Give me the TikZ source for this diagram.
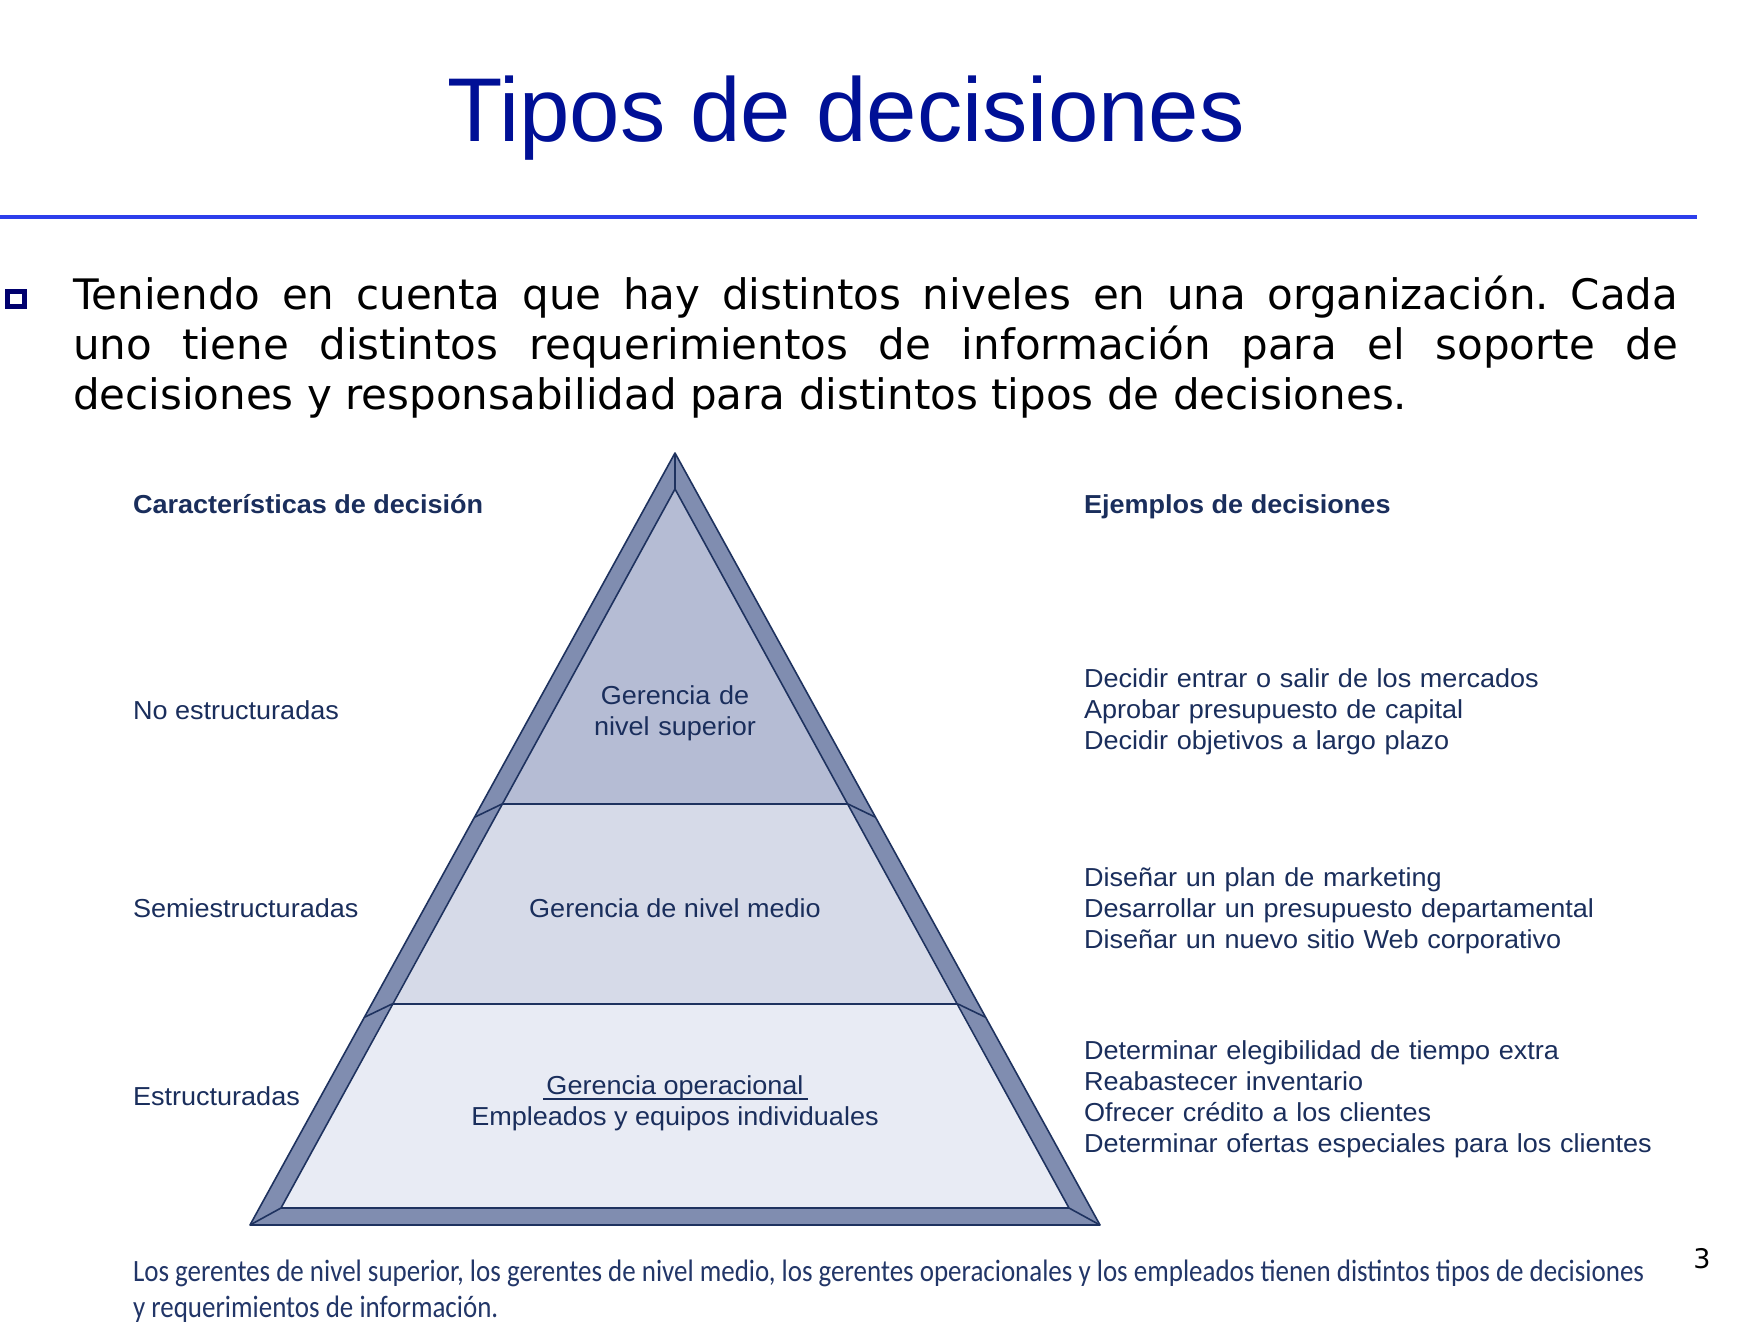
\documentclass[tikz,border=0pt]{standalone}
\usepackage{fontspec}
\setmainfont{Liberation Sans}
\newfontfamily\parafont{DejaVu Sans}
\newfontfamily\figfont[FakeStretch=1.04]{Liberation Sans}
\newfontfamily\notefont[FakeStretch=0.87]{Carlito}

\definecolor{titleblue}{RGB}{0,16,150}
\definecolor{ruleblue}{RGB}{45,62,235}
\definecolor{bulletnavy}{RGB}{0,0,110}
\definecolor{textnavy}{RGB}{26,46,92}
\definecolor{capnavy}{RGB}{34,54,104}
\definecolor{edgenavy}{RGB}{30,50,95}
\definecolor{bevelblue}{RGB}{128,141,176}
\definecolor{tiertop}{RGB}{181,188,212}
\definecolor{tiermid}{RGB}{214,218,232}
\definecolor{tierlow}{RGB}{232,235,244}

% one justified line of the intro text
\newcommand\jline[1]{\leavevmode\hbox to 802.5pt{\frenchspacing\spaceskip=0.318em plus 1fil\relax #1}}

\begin{document}
\begin{tikzpicture}[ x = 0.5pt, y = -0.5pt
                   , every node/.style = { inner sep = 0pt, outer sep = 0pt }
                   , figtext/.style = { font = \figfont\fontsize{13pt}{15.5pt}\selectfont
                                      , text = textnavy }
                   , fighead/.style = { figtext
                                      , font = \figfont\bfseries\fontsize{13pt}{15.5pt}\selectfont }
                   , textblock/.style = { figtext, align = left, text width = 330pt }
                   , tierlabel/.style = { figtext, align = center, text width = 300pt }
                   , edgeline/.style = { draw = edgenavy, line width = 0.8pt, line join = round }
                   ]

  \fill[white] (0,0) rectangle (1741,1334);
  \useasboundingbox (0,0) rectangle (1741,1334);

  % heading and rule
  \node (title) [anchor = base, text = titleblue, font = \fontsize{45.3pt}{54pt}\selectfont]
    at (846,141) {Tipos de decisiones};
  \draw[ruleblue, line width = 2pt] (0,216.5) -- (1697,216.5);

  \draw[bulletnavy, line width = 2.5pt] (7,291) rectangle (24,306);
  \node (intro) [ anchor = base west, align = left, text width = 802.5pt
                , font = \parafont\fontsize{21pt}{25pt}\selectfont ]
    at (73,309)
    {\jline{Teniendo en cuenta que hay distintos niveles en una organización. Cada}\\
     \jline{uno tiene distintos requerimientos de información para el soporte de}\\
     \spaceskip=0pt\xspaceskip=0pt decisiones y responsabilidad para distintos tipos de decisiones.};

  % pyramid
  \coordinate (apexOut) at (675,453);
  \coordinate (apexIn) at (675,489);
  \coordinate (baseOutL) at (250,1225);
  \coordinate (baseOutR) at (1100,1225);
  \coordinate (baseInL) at (281,1208);
  \coordinate (baseInR) at (1069,1208);
  \coordinate (upInL) at (502,804);
  \coordinate (upInR) at (848,804);
  \coordinate (upOutL) at (475,817);
  \coordinate (upOutR) at (875,817);
  \coordinate (lowInL) at (392,1004);
  \coordinate (lowInR) at (958,1004);
  \coordinate (lowOutL) at (365,1017);
  \coordinate (lowOutR) at (985,1017);

  \fill[bevelblue] (apexOut) -- (baseOutR) -- (baseOutL) -- cycle;
  \fill[tiertop] (apexIn) -- (upInR) -- (upInL) -- cycle;
  \fill[tiermid] (upInL) -- (upInR) -- (lowInR) -- (lowInL) -- cycle;
  \fill[tierlow] (lowInL) -- (lowInR) -- (baseInR) -- (baseInL) -- cycle;

  \draw[edgeline] (apexOut) -- (baseOutR) -- (baseOutL) -- cycle;
  \draw[edgeline] (apexIn) -- (baseInR) -- (baseInL) -- cycle;
  \draw[edgeline] (upInL) -- (upInR) (lowInL) -- (lowInR);
  \foreach \a/\b in {apexOut/apexIn, upInL/upOutL, upInR/upOutR, lowInL/lowOutL, lowInR/lowOutR, baseInL/baseOutL, baseInR/baseOutR}
    \draw[edgeline] (\a) -- (\b);

  \node (topMgmt) [tierlabel, anchor = base] at (675,704) {Gerencia de\\nivel superior};
  \node (midMgmt) [figtext, anchor = base] at (675,917) {Gerencia de nivel medio};
  \node (opMgmt) [figtext, anchor = base] at (675,1094) {Gerencia operacional};
  \draw[textnavy, line width = 0.6pt]
    ([xshift = -1.5pt, yshift = -2.5pt]opMgmt.base west) -- ([xshift = 2pt, yshift = -2.5pt]opMgmt.base east);
  \node (staff) [figtext, anchor = base] at (675,1125) {Empleados y equipos individuales};

  % left column
  \node (charHead) [fighead, anchor = base west] at (133,513) {Características de decisión};
  \node (unstruct) [figtext, anchor = base west] at (133,719) {No estructuradas};
  \node (semistruct) [figtext, anchor = base west] at (133,917) {Semiestructuradas};
  \node (struct) [figtext, anchor = base west] at (133,1105) {Estructuradas};

  % right column
  \node (exHead) [fighead, anchor = base west] at (1084,513) {Ejemplos de decisiones};
  \node (exTop) [textblock, anchor = base west] at (1084,687)
    {Decidir entrar o salir de los mercados\\Aprobar presupuesto de capital\\Decidir objetivos a largo plazo};
  \node (exMid) [textblock, anchor = base west] at (1084,886)
    {Diseñar un plan de marketing\\Desarrollar un presupuesto departamental\\Diseñar un nuevo sitio Web corporativo};
  \node (exLow) [textblock, anchor = base west] at (1084,1059)
    {Determinar elegibilidad de tiempo extra\\Reabastecer inventario\\Ofrecer crédito a los clientes\\Determinar ofertas especiales para los clientes};

  % caption
  \node (note) [ anchor = base west, align = left, text width = 860pt, text = capnavy
               , font = \notefont\fontsize{15.5pt}{18pt}\selectfont ]
    at (133,1281)
    {\spaceskip=0pt\xspaceskip=0pt\hyphenpenalty=10000
     Los gerentes de nivel superior, los gerentes de nivel medio, los gerentes operacionales y los empleados tienen distintos tipos de decisiones\\y requerimientos de información.};
  \node (pageNo) [anchor = base, font = \parafont\fontsize{13.5pt}{16pt}\selectfont] at (1702,1268) {3};

\end{tikzpicture}
\end{document}
